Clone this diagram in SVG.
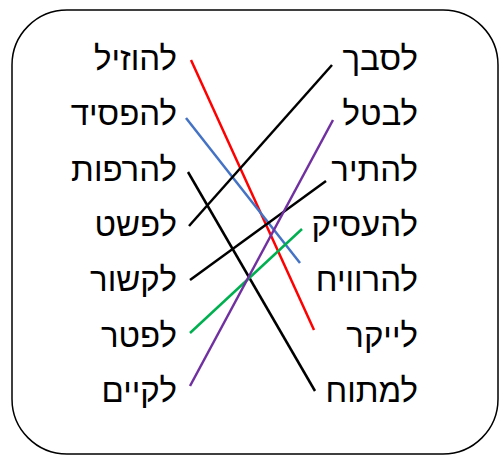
<svg xmlns="http://www.w3.org/2000/svg" width="499" height="457" viewBox="0 0 499 457">
<style>
.t{font-family:"Liberation Sans","DejaVu Sans",sans-serif;font-size:33px;fill:#000;text-anchor:end}
.c{fill:none;stroke-width:2.5}
</style>
<rect x="0" y="0" width="499" height="457" fill="#fff"/>
<rect x="12" y="10" width="486" height="444" rx="55" ry="55" fill="none" stroke="#000" stroke-width="1.5"/>
<g id="left">
<g id="n-l1"><text class="t" x="177" y="70">להוזיל</text></g>
<g id="n-l2"><text class="t" x="177" y="125">להפסיד</text></g>
<g id="n-l3"><text class="t" x="177" y="181">להרפות</text></g>
<g id="n-l4"><text class="t" x="177" y="236">לפשט</text></g>
<g id="n-l5"><text class="t" x="177" y="291">לקשור</text></g>
<g id="n-l6"><text class="t" x="177" y="347">לפטר</text></g>
<g id="n-l7"><text class="t" x="177" y="402">לקיים</text></g>
</g>
<g id="right">
<g id="n-r1"><text class="t" x="418" y="70">לסבך</text></g>
<g id="n-r2"><text class="t" x="418" y="125">לבטל</text></g>
<g id="n-r3"><text class="t" x="418" y="181">להתיר</text></g>
<g id="n-r4"><text class="t" x="418" y="236">להעסיק</text></g>
<g id="n-r5"><text class="t" x="418" y="291">להרוויח</text></g>
<g id="n-r6"><text class="t" x="418" y="347">לייקר</text></g>
<g id="n-r7"><text class="t" x="418" y="402">למתוח</text></g>
</g>
<g id="connectors">
<line class="c" x1="191" y1="60" x2="314" y2="330" stroke="#ff0000"/>
<line class="c" x1="186" y1="118" x2="300" y2="263" stroke="#4472c4"/>
<line class="c" x1="188" y1="172" x2="315" y2="391" stroke="#000"/>
<line class="c" x1="189" y1="226" x2="332" y2="65" stroke="#000"/>
<line class="c" x1="190" y1="280" x2="326" y2="181" stroke="#000"/>
<line class="c" x1="190" y1="333" x2="302" y2="229" stroke="#00b050"/>
<line class="c" x1="190" y1="386" x2="333" y2="120" stroke="#7030a0"/>
</g>
</svg>
